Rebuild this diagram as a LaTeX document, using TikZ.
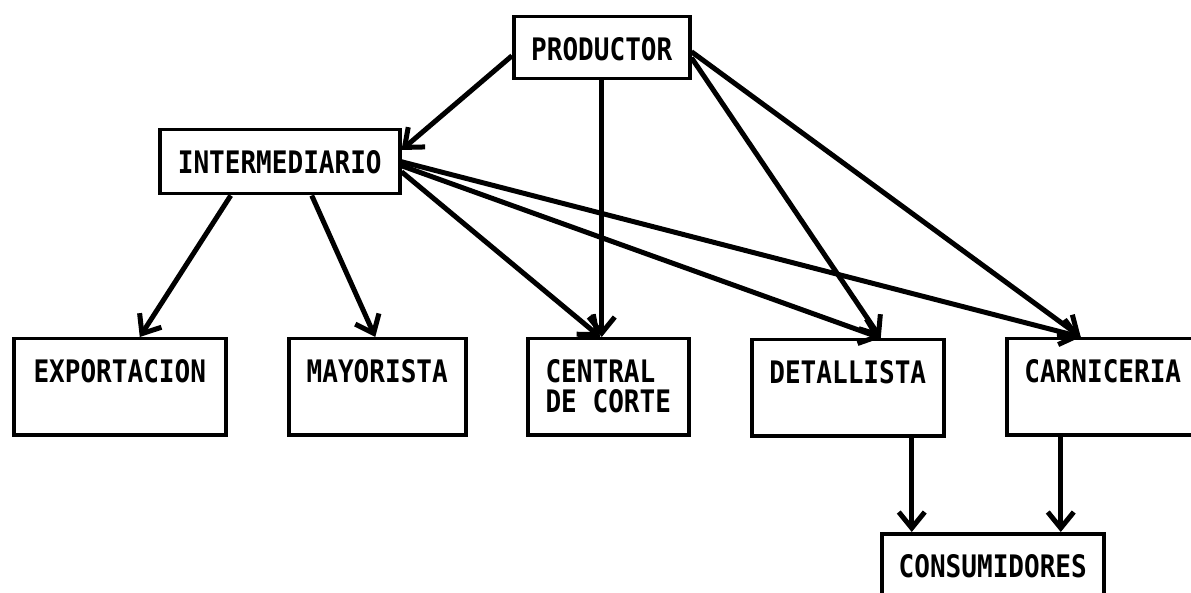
\documentclass[tikz,border=0pt]{standalone}
\usepackage{fontspec}
\usetikzlibrary{arrows.meta}
\newfontfamily\cajafont{DejaVu Sans Mono}[FakeStretch=0.84]

\tikzset{
  caja/.style={draw, line width=3.5pt, inner sep=0pt, anchor=north west,
    font=\cajafont\bfseries\fontsize{31}{30}\selectfont, text height=44pt},
  flecha/.style={line width=5pt, -{Straight Barb[length=16pt,width=26pt]}}
}

\begin{document}
\begin{tikzpicture}[x=1pt,y=-1pt]
\useasboundingbox (0,0) rectangle (1191,593);
\clip (0,0) rectangle (1191,593);
% cajas
\node[caja, minimum width=176pt, text depth=18pt] (prod) at (512,15) {PRODUCTOR};
\node[caja, minimum width=240pt, text depth=20pt] (inter) at (158,128) {INTERMEDIARIO};
\node[caja, minimum width=212pt, text depth=52pt] (exp) at (12,337) {EXPORTACION};
\node[caja, minimum width=177pt, text depth=52pt] (may) at (287,337) {MAYORISTA};
\node[caja, minimum width=161pt, text height=74pt, text depth=22pt, align=left] (cent) at (526,337) {CENTRAL\\DE CORTE};
\node[caja, minimum width=192pt, text depth=52pt] (det) at (750,338) {DETALLISTA};
\node[caja, minimum width=192pt, text depth=52pt] (carn) at (1005,337) {CARNICERIA};
\node[caja, minimum width=222pt, text depth=60pt] (cons) at (880,532) {CONSUMIDORES};
% flechas
\draw[flecha] ([yshift=-8pt]prod.west) -- ([yshift=-22pt]inter.north east);
\draw[flecha] (prod.south) -- (prod.south |- cent.north);
\draw[flecha] ([yshift=-10pt]prod.east) -- ([xshift=33pt]det.north);
\draw[flecha] ([yshift=-4pt]prod.east) -- ([xshift=-22pt]carn.north);
\draw[flecha] ([xshift=-49pt]inter.south) -- ([xshift=20pt]exp.north);
\draw[flecha] ([xshift=32pt]inter.south) -- ([xshift=-2pt]may.north);
\draw[flecha] ([yshift=-10pt]inter.east) -- ([xshift=-8pt]cent.north);
\draw[flecha] ([yshift=-4pt]inter.east) -- ([xshift=33pt]det.north);
\draw[flecha] (inter.east) -- ([xshift=-22pt]carn.north);
\draw[flecha] ([xshift=64pt]det.south) -- ([xshift=64pt]det.south |- cons.north);
\draw[flecha] ([xshift=-42pt]carn.south) -- ([xshift=-42pt]carn.south |- cons.north);
\end{tikzpicture}
\end{document}
